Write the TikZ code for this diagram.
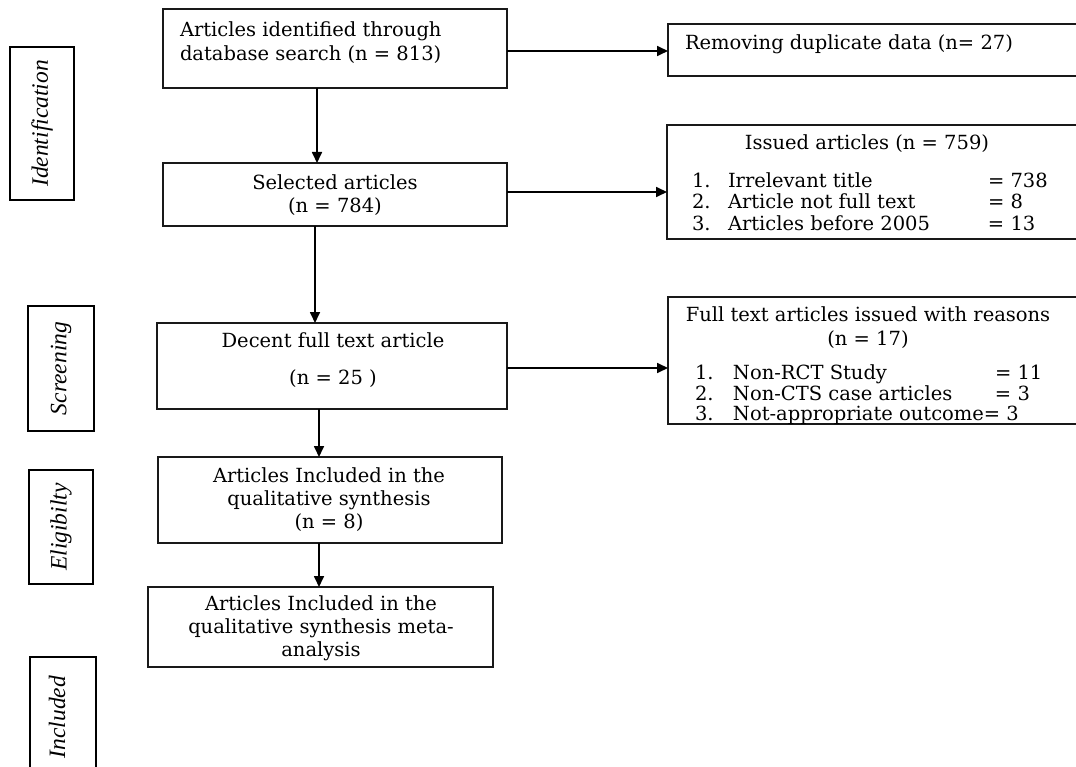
\documentclass[tikz,border=0pt]{standalone}
\usepackage{fontspec}
\setmainfont{DejaVu Serif}
\newfontfamily\labelfont{Liberation Serif}
\usetikzlibrary{arrows.meta}
\newcommand{\mainsize}{\fontsize{19.5}{23.5}\selectfont}
\newcommand{\itemsize}{\fontsize{19.5}{21.5}\selectfont}
\tikzset{
  boxshape/.style={draw=black!90, line width=1.2pt, inner sep=0pt, outer sep=0pt, anchor=north west},
  txt/.style={font=\mainsize, inner sep=0pt, outer sep=0pt, text=black},
  stagebox/.style={draw=black, line width=1.4pt, inner sep=0pt, outer sep=0pt, rotate=90, font=\labelfont\itshape\fontsize{23.5}{26}\selectfont},
  flow/.style={line width=1.7pt, -{Triangle[length=11pt,width=10pt]}}
}
\begin{document}
\begin{tikzpicture}[x=1pt,y=-1pt]
\clip (0,0) rectangle (1076,767);
\fill[white] (0,0) rectangle (1076,767);

% stage labels
\node[stagebox, minimum width=153pt, minimum height=64pt] (sid) at (42,123.5) {Identification};
\node[stagebox, minimum width=125pt, minimum height=66pt] (ssc) at (61,368.5) {Screening};
\node[stagebox, minimum width=114pt, minimum height=64pt] (sel) at (61,527) {Eligibilty};
\node[stagebox, minimum width=140pt, minimum height=66pt] (sin) at (63,727) {};
\node[font=\labelfont\itshape\fontsize{23.5}{26}\selectfont, rotate=90, inner sep=0pt] (tin) at (57,717) {Included};

% main boxes
\node[boxshape, minimum width=344pt, minimum height=79pt] (b1) at (163,9) {};
\node[boxshape, minimum width=344pt, minimum height=63pt] (b2) at (163,163) {};
\node[boxshape, minimum width=350pt, minimum height=86pt] (b3) at (157,323) {};
\node[boxshape, minimum width=344pt, minimum height=86pt] (b4) at (158,457) {};
\node[boxshape, minimum width=345pt, minimum height=80pt] (b5) at (148,587) {};

\node[txt, anchor=north west, align=left] (t1) at (180,22) {Articles identified through\\database search (n = 813)};
\node[txt, align=center] (t2) at (335,195) {Selected articles\\(n = 784)};
\node[txt, align=center] (t3) at (333,360) {Decent full text article\\[14pt](n = 25 )};
\node[txt, align=center, font=\fontsize{19.5}{23}\selectfont] (t4) at (329,500) {Articles Included in the\\qualitative synthesis\\(n = 8)};
\node[txt, align=center, font=\fontsize{19.5}{23}\selectfont] (t5) at (321,628) {Articles Included in the\\qualitative synthesis meta-\\analysis};

% right boxes
\node[boxshape, minimum width=420pt, minimum height=52pt] (r1) at (668,24) {};
\node[boxshape, minimum width=420pt, minimum height=114pt] (r2) at (667,125) {};
\node[boxshape, minimum width=420pt, minimum height=127pt] (r3) at (668,297) {};

\node[txt, anchor=base west] (tr1) at (685,50) {Removing duplicate data (n= 27)};
\node[txt, anchor=base] (tr2) at (867,150) {Issued articles (n = 759)};
\node[txt, anchor=north west, font=\itemsize] (lr2) at (692,172)
  {\begin{tabular}{@{}p{36pt}@{}p{260pt}@{}l@{}}
   1. & Irrelevant title & = 738\\
   2. & Article not full text & = 8\\
   3. & Articles before 2005 & = 13
   \end{tabular}};
\node[txt, anchor=north, align=center] (tr3) at (868,307) {Full text articles issued with reasons\\(n = 17)};
\node[txt, anchor=north west, font=\fontsize{19.5}{19.5}\selectfont] (lr3) at (695,364.6)
  {\begin{tabular}{@{}p{38pt}@{}p{262pt}@{}l@{}}
   1. & Non-RCT Study & = 11\\
   2. & Non-CTS case articles & = 3\\
   3. & \multicolumn{2}{@{}l@{}}{Not-appropriate outcome= 3}
   \end{tabular}};

% connectors
\draw[flow] ([xshift=-18pt]b1.south) -- ([xshift=-18pt]b1.south |- b2.north);
\draw[flow] ([xshift=-20pt]b2.south) -- ([xshift=-20pt]b2.south |- b3.north);
\draw[flow] ([xshift=-13pt]b3.south) -- ([xshift=-13pt]b3.south |- b4.north);
\draw[flow] ([xshift=-11pt]b4.south) -- ([xshift=-11pt]b4.south |- b5.north);
\draw[flow] ([yshift=-2.5pt]b1.east) -- ([yshift=-2.5pt]b1.east -| r1.west);
\draw[flow] ([yshift=2.5pt]b2.east) -- ([yshift=2.5pt]b2.east -| r2.west);
\draw[flow] ([yshift=-2pt]b3.east) -- ([yshift=-2pt]b3.east -| r3.west);
\end{tikzpicture}
\end{document}
